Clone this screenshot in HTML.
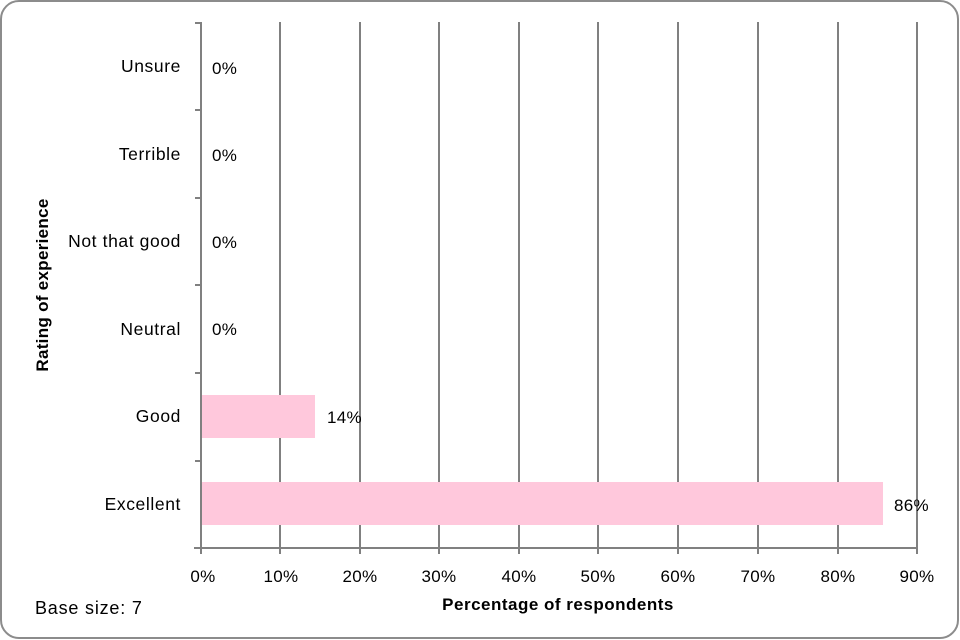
<!DOCTYPE html>
<html><head><meta charset="utf-8"><style>
html,body{margin:0;padding:0;background:#fff;}
svg{display:block;font-family:"Liberation Sans",sans-serif;}
</style></head><body>
<svg width="960" height="640" viewBox="0 0 960 640">
<rect x="1" y="1" width="957" height="637" rx="18" ry="18" fill="#fff" stroke="#8c8c8c" stroke-width="2"/>
<g stroke="#808080" stroke-width="2">
<line x1="280" y1="22" x2="280" y2="548"/>
<line x1="360" y1="22" x2="360" y2="548"/>
<line x1="439" y1="22" x2="439" y2="548"/>
<line x1="519" y1="22" x2="519" y2="548"/>
<line x1="598" y1="22" x2="598" y2="548"/>
<line x1="678" y1="22" x2="678" y2="548"/>
<line x1="758" y1="22" x2="758" y2="548"/>
<line x1="838" y1="22" x2="838" y2="548"/>
<line x1="917" y1="22" x2="917" y2="548"/>
</g>
<rect x="201" y="395" width="114" height="43" fill="#ffc8dc"/>
<rect x="201" y="482" width="682" height="43" fill="#ffc8dc"/>
<g stroke="#808080" stroke-width="2" fill="none">
<line x1="201" y1="22" x2="201" y2="549"/>
<line x1="194" y1="548" x2="918" y2="548"/>
<line x1="195" y1="23" x2="201" y2="23"/>
<line x1="195" y1="110" x2="201" y2="110"/>
<line x1="195" y1="198" x2="201" y2="198"/>
<line x1="195" y1="285" x2="201" y2="285"/>
<line x1="195" y1="373" x2="201" y2="373"/>
<line x1="195" y1="461" x2="201" y2="461"/>
<line x1="201" y1="548" x2="201" y2="554"/>
<line x1="280" y1="548" x2="280" y2="554"/>
<line x1="360" y1="548" x2="360" y2="554"/>
<line x1="439" y1="548" x2="439" y2="554"/>
<line x1="519" y1="548" x2="519" y2="554"/>
<line x1="598" y1="548" x2="598" y2="554"/>
<line x1="678" y1="548" x2="678" y2="554"/>
<line x1="758" y1="548" x2="758" y2="554"/>
<line x1="838" y1="548" x2="838" y2="554"/>
<line x1="917" y1="548" x2="917" y2="554"/>
</g>
<g font-size="17.5" fill="#000" text-anchor="end" letter-spacing="0.6">
<text x="181" y="72">Unsure</text>
<text x="181" y="160">Terrible</text>
<text x="181" y="247">Not that good</text>
<text x="181" y="335">Neutral</text>
<text x="181" y="422">Good</text>
<text x="181" y="510">Excellent</text>
</g>
<g font-size="17" fill="#000" letter-spacing="0.3">
<text x="212" y="74">0%</text>
<text x="212" y="161">0%</text>
<text x="212" y="248">0%</text>
<text x="212" y="335">0%</text>
<text x="327" y="423">14%</text>
<text x="894" y="511">86%</text>
</g>
<g font-size="17" fill="#000" text-anchor="middle" letter-spacing="0.3">
<text x="203" y="582">0%</text>
<text x="281" y="582">10%</text>
<text x="360" y="582">20%</text>
<text x="439" y="582">30%</text>
<text x="519" y="582">40%</text>
<text x="598" y="582">50%</text>
<text x="678" y="582">60%</text>
<text x="758" y="582">70%</text>
<text x="838" y="582">80%</text>
<text x="917" y="582">90%</text>
</g>
<text x="558" y="610" font-size="17" font-weight="bold" text-anchor="middle" letter-spacing="0.5">Percentage of respondents</text>
<text x="35" y="614" font-size="18" letter-spacing="0.8">Base size: 7</text>
<text transform="translate(48,285) rotate(-90)" font-size="17" font-weight="bold" text-anchor="middle" letter-spacing="0.3">Rating of experience</text>
</svg>
</body></html>
